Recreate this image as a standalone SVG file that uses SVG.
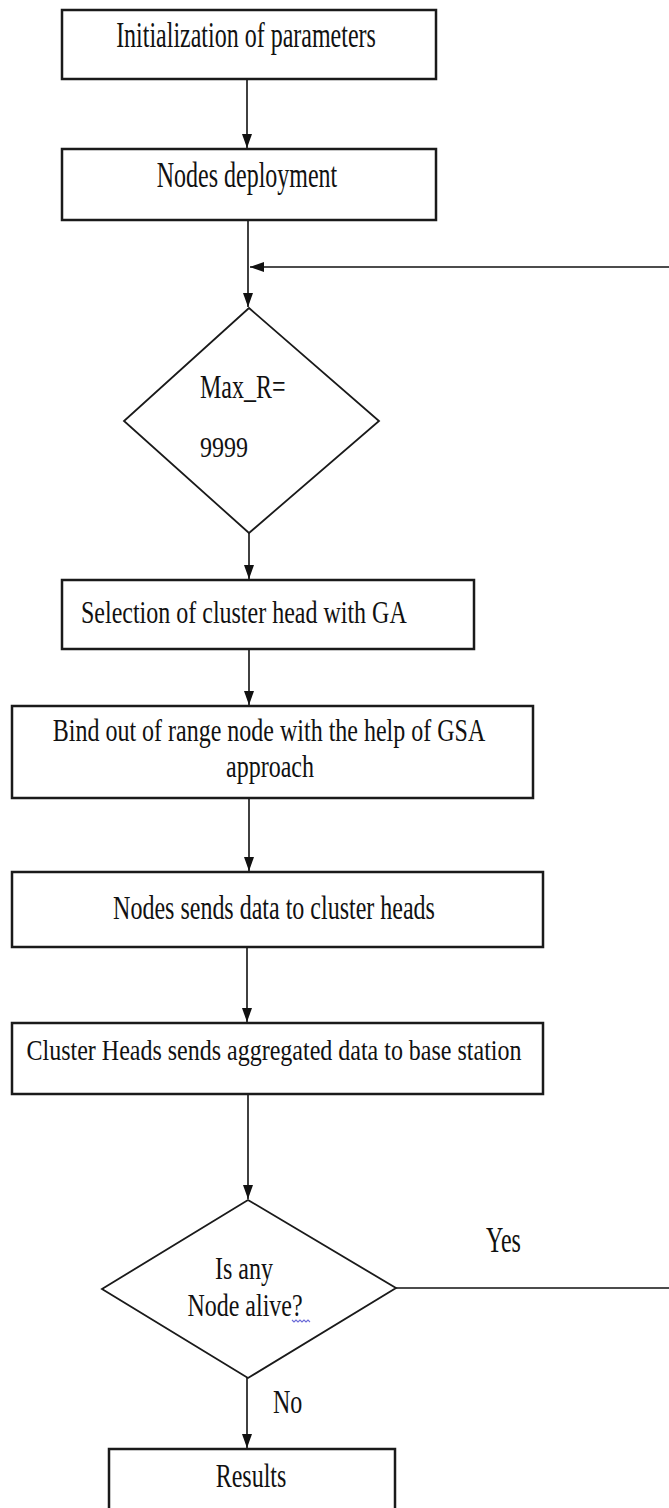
<svg xmlns="http://www.w3.org/2000/svg" width="669" height="1508" viewBox="0 0 669 1508">
  <style>
    .box { fill: #ffffff; stroke: #1a1a1a; stroke-width: 2.5; }
    .dec { fill: #ffffff; stroke: #1a1a1a; stroke-width: 1.8; }
    .edge { fill: none; stroke: #111111; stroke-width: 1.6; }
    .lbl { font-family: "Liberation Serif", "Times New Roman", serif; font-size: 24px; fill: #111111; }
    .mid { text-anchor: middle; }
    .squig { fill: none; stroke: #6c6cd8; stroke-width: 1.1; }
  </style>
  <defs>
    <marker id="arrow" viewBox="0 0 14 10" refX="14" refY="5" markerWidth="14" markerHeight="10" markerUnits="userSpaceOnUse" orient="auto">
      <path d="M0,0 L14,5 L0,10 z" fill="#111111"/>
    </marker>
  </defs>
  <rect width="669" height="1508" fill="#ffffff"/>

  <!-- connectors -->
  <g id="connectors">
    <line class="edge" x1="247" y1="79" x2="247" y2="148" marker-end="url(#arrow)"/>
    <line class="edge" x1="248" y1="220" x2="248" y2="307" marker-end="url(#arrow)"/>
    <line class="edge" x1="669" y1="267" x2="250" y2="267" marker-end="url(#arrow)"/>
    <line class="edge" x1="249" y1="533" x2="249" y2="579" marker-end="url(#arrow)"/>
    <line class="edge" x1="249" y1="649" x2="249" y2="705" marker-end="url(#arrow)"/>
    <line class="edge" x1="249" y1="798" x2="249" y2="871" marker-end="url(#arrow)"/>
    <line class="edge" x1="247" y1="947" x2="247" y2="1022" marker-end="url(#arrow)"/>
    <line class="edge" x1="248" y1="1094" x2="248" y2="1199" marker-end="url(#arrow)"/>
    <line class="edge" x1="396" y1="1288" x2="669" y2="1288"/>
    <line class="edge" x1="247" y1="1378" x2="247" y2="1448" marker-end="url(#arrow)"/>
    <text class="lbl" transform="translate(486,1252) scale(1,1.45)">Yes</text>
    <text class="lbl" transform="translate(273,1413) scale(1,1.42)">No</text>
  </g>

  <g id="init">
    <rect class="box" x="62" y="10" width="374" height="69"/>
    <text class="lbl mid" transform="translate(246,47) scale(1,1.45)">Initialization of parameters</text>
  </g>

  <g id="deploy">
    <rect class="box" x="62" y="149" width="374" height="71"/>
    <text class="lbl mid" transform="translate(247,187) scale(1,1.45)">Nodes deployment</text>
  </g>

  <g id="maxr">
    <polygon class="dec" points="249,308 379,421 249,533 124,421"/>
    <text class="lbl" transform="translate(200,398) scale(1,1.4)">Max_R=</text>
    <text class="lbl" transform="translate(200,457) scale(1,1.25)">9999</text>
  </g>

  <g id="select">
    <rect class="box" x="62" y="580" width="412" height="69"/>
    <text class="lbl" transform="translate(81,623) scale(1,1.34)">Selection of cluster head with GA</text>
  </g>

  <g id="bind">
    <rect class="box" x="12" y="706" width="521" height="92"/>
    <text class="lbl mid" transform="translate(269,741) scale(1,1.3)">Bind out of range node with the help of GSA</text>
    <text class="lbl mid" transform="translate(270,777) scale(1,1.3)">approach</text>
  </g>

  <g id="send">
    <rect class="box" x="12" y="872" width="531" height="75"/>
    <text class="lbl mid" transform="translate(274,919) scale(1,1.4)">Nodes sends data to cluster heads</text>
  </g>

  <g id="aggregate">
    <rect class="box" x="12" y="1023" width="531" height="71"/>
    <text class="lbl mid" transform="translate(274,1060) scale(1,1.26)">Cluster Heads sends aggregated data to base station</text>
  </g>

  <g id="alive">
    <polygon class="dec" points="248,1200 396,1288 248,1378 102,1289"/>
    <text class="lbl mid" transform="translate(244,1279) scale(1,1.35)">Is any</text>
    <text class="lbl mid" transform="translate(245,1316) scale(1,1.3)">Node alive?</text>
    <path class="squig" d="M292,1320 l2,2 l2,-2 l2,2 l2,-2 l2,2 l2,-2 l2,2 l2,-2 l2,2"/>
  </g>

  <g id="results">
    <rect class="box" x="109" y="1449" width="286" height="70"/>
    <text class="lbl mid" transform="translate(251,1487) scale(1,1.4)">Results</text>
  </g>
</svg>
